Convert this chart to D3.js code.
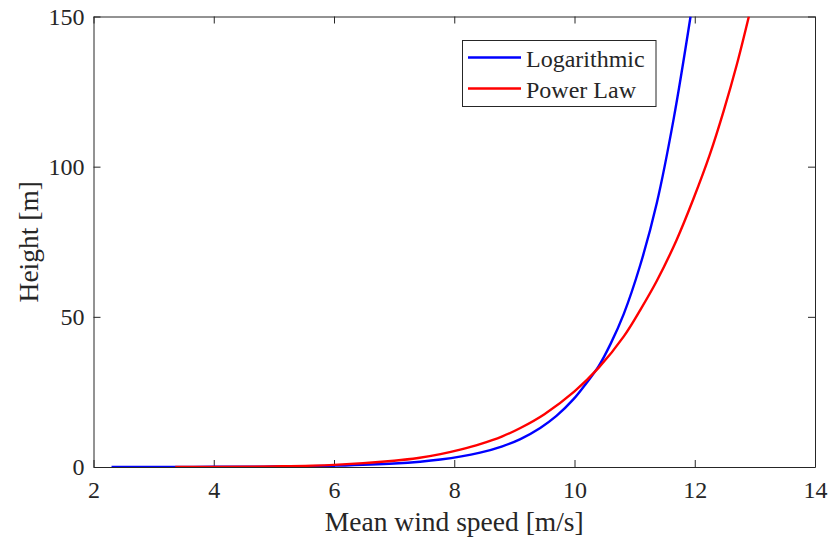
<!DOCTYPE html>
<html>
<head>
<meta charset="utf-8">
<script src="https://cdn.jsdelivr.net/npm/d3@7"></script>
<style>
  body { margin: 0; background: #fff; }
  svg text { font-family: "Liberation Serif", "Times New Roman", serif; fill: #262626; }
</style>
</head>
<body>
<div id="chart"></div>
<script>
var
width = 832,
height = 543,
mleft = 93.5,
mright = 815,
mtop = 16.5,
mbottom = 467
;

// values: wind speed [m/s] vs height [m]
var logSpeed  = [2.3, 3, 4, 5, 6, 7, 7.77, 8.43, 8.8, 9.1, 9.43, 9.7, 9.98, 10.2, 10.4, 10.6, 10.82, 11.09, 11.37, 11.65, 11.93];
var logHeight = [0.01, 0.02, 0.06, 0.16, 0.43, 1.15, 2.5, 4.8, 6.9, 9.3, 13, 17, 22.5, 28, 33.5, 41, 51, 67, 88, 116, 150];

var powSpeed  = [3.36, 4, 5, 6, 7, 7.4, 7.77, 8.1, 8.43, 8.8, 9.1, 9.5, 10.0, 10.4, 10.82, 11.1, 11.37, 11.7, 11.98, 12.25, 12.48, 12.7, 12.9];
var powHeight = [0.01, 0.04, 0.2, 0.7, 2.1, 3.0, 4.3, 5.8, 7.6, 10.2, 13, 17.6, 25.2, 33, 43.5, 52.5, 62, 75.7, 89.4, 104, 118.5, 134, 150];

var xTicks = [2, 4, 6, 8, 10, 12, 14];
var yTicks = [0, 50, 100, 150];

var series = [
  {name: 'Logarithmic', color: '#0000ff', xs: logSpeed, ys: logHeight},
  {name: 'Power Law', color: '#ff0000', xs: powSpeed, ys: powHeight}
];

var x = d3.scaleLinear().domain([2, 14]).range([mleft, mright]);
var y = d3.scaleLinear().domain([0, 150]).range([mbottom, mtop]);

var svg = d3.select('#chart').append('svg').attr('width', width).attr('height', height);

svg.append('defs').append('clipPath').attr('id', 'plotclip')
  .append('rect').attr('x', mleft).attr('y', mtop).attr('width', mright - mleft).attr('height', mbottom - mtop);

// axes, MATLAB style: ticks inward, mirrored on top and right
function styleAxis(g){
  g.select('.domain').attr('stroke', '#262626');
  g.selectAll('.tick line').attr('stroke', '#262626');
  g.selectAll('.tick text').style('font-size', '24px').attr('fill', '#262626');
}

svg.append('g').attr('transform', 'translate(0,' + mbottom + ')')
  .call(d3.axisBottom(x).tickValues(xTicks).tickFormat(d3.format('d')).tickSizeInner(-7).tickSizeOuter(0).tickPadding(14))
  .call(styleAxis)
  .call(function(g){ g.selectAll('.tick text').attr('dy', '0.71em'); });

svg.append('g').attr('transform', 'translate(0,' + mtop + ')')
  .call(d3.axisTop(x).tickValues(xTicks).tickFormat('').tickSizeInner(-7).tickSizeOuter(0))
  .call(styleAxis);

svg.append('g').attr('transform', 'translate(' + mleft + ',0)')
  .call(d3.axisLeft(y).tickValues(yTicks).tickFormat(d3.format('d')).tickSizeInner(-7).tickSizeOuter(0).tickPadding(9))
  .call(styleAxis);

svg.append('g').attr('transform', 'translate(' + mright + ',0)')
  .call(d3.axisRight(y).tickValues(yTicks).tickFormat('').tickSizeInner(-7).tickSizeOuter(0))
  .call(styleAxis);

// curves
var line = d3.line()
  .x(function(d){ return x(d[0]); })
  .y(function(d){ return y(d[1]); })
  .curve(d3.curveCatmullRom.alpha(0.5));

svg.append('g').attr('clip-path', 'url(#plotclip)')
  .selectAll('path')
  .data(series)
  .enter().append('path')
  .attr('d', function(s){ return line(s.xs.map(function(v, i){ return [v, s.ys[i]]; })); })
  .attr('fill', 'none')
  .attr('stroke', function(s){ return s.color; })
  .attr('stroke-width', 2.4);

// axis labels
svg.append('text')
  .attr('x', (mleft + mright) / 2).attr('y', 531)
  .attr('text-anchor', 'middle')
  .style('font-size', '27.5px')
  .text('Mean wind speed [m/s]');

svg.append('text')
  .attr('transform', 'translate(38,' + (mtop + mbottom) / 2 + ') rotate(-90)')
  .attr('text-anchor', 'middle')
  .style('font-size', '27.5px')
  .text('Height [m]');

// legend
var legend = svg.append('g');
legend.append('rect')
  .attr('x', 462.5).attr('y', 40.5).attr('width', 193.5).attr('height', 66)
  .attr('fill', '#fff').attr('stroke', '#262626').attr('stroke-width', 1);

var items = legend.selectAll('g.item')
  .data(series)
  .enter().append('g').attr('class', 'item')
  .attr('transform', function(s, i){ return 'translate(0,' + (57.5 + i * 31) + ')'; });

items.append('line')
  .attr('x1', 468).attr('x2', 521)
  .attr('stroke', function(s){ return s.color; })
  .attr('stroke-width', 2.4);

items.append('text')
  .attr('x', 526).attr('y', 9)
  .style('font-size', '24px')
  .text(function(s){ return s.name; });
</script>
</body>
</html>
